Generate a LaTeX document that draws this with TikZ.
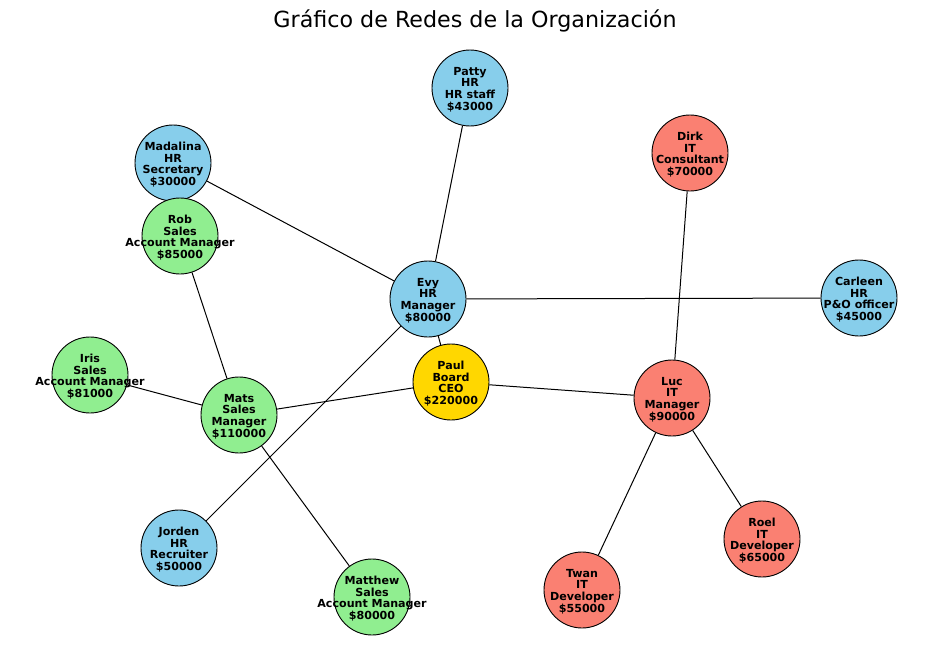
\documentclass[tikz,border=0pt]{standalone}
\usepackage{fontspec}
\setmainfont{DejaVu Sans}
\definecolor{hrc}{HTML}{87CEEB}
\definecolor{salesc}{HTML}{90EE90}
\definecolor{itc}{HTML}{FA8072}
\definecolor{boardc}{HTML}{FFD700}
\begin{document}
\begin{tikzpicture}[x=1pt,y=-1pt,
  person/.style={circle,draw=black,line width=0.9pt,fill=#1,minimum size=76pt,inner sep=0pt},
  txt/.style={align=center,inner sep=0pt,yshift=-1.5pt,font=\fontsize{11.1}{11.7}\selectfont\bfseries},
  edge/.style={draw=black,line width=1pt},
  title/.style={font=\fontsize{22.2}{26}\selectfont,anchor=base}]
\useasboundingbox (0,0) rectangle (950,661);
\node[title] (ttl) at (475,27.5) {Gráfico de Redes de la Organización};
\node[person=hrc, label={[txt]center:Patty\\HR\\HR staff\\\$43000}] (patty) at (470,88) {};
\node[person=hrc, label={[txt]center:Madalina\\HR\\Secretary\\\$30000}] (mad) at (173,163) {};
\node[person=salesc, label={[txt]center:Rob\\Sales\\Account Manager\\\$85000}] (rob) at (180,236) {};
\node[person=itc, label={[txt]center:Dirk\\IT\\Consultant\\\$70000}] (dirk) at (690,153) {};
\node[person=hrc, label={[txt]center:Evy\\HR\\Manager\\\$80000}] (evy) at (428,299) {};
\node[person=hrc, label={[txt]center:Carleen\\HR\\P\&O officer\\\$45000}] (carleen) at (859,298) {};
\node[person=salesc, label={[txt]center:Iris\\Sales\\Account Manager\\\$81000}] (iris) at (90,375) {};
\node[person=boardc, label={[txt]center:Paul\\Board\\CEO\\\$220000}] (paul) at (451,382) {};
\node[person=itc, label={[txt]center:Luc\\IT\\Manager\\\$90000}] (luc) at (672,398) {};
\node[person=salesc, label={[txt]center:Mats\\Sales\\Manager\\\$110000}] (mats) at (239,415) {};
\node[person=hrc, label={[txt]center:Jorden\\HR\\Recruiter\\\$50000}] (jorden) at (179,548) {};
\node[person=itc, label={[txt]center:Roel\\IT\\Developer\\\$65000}] (roel) at (762,539) {};
\node[person=itc, label={[txt]center:Twan\\IT\\Developer\\\$55000}] (twan) at (582,590) {};
\node[person=salesc, label={[txt]center:Matthew\\Sales\\Account Manager\\\$80000}] (matthew) at (372,597) {};
\draw[edge] (mad) -- (evy);
\draw[edge] (patty) -- (evy);
\draw[edge] (evy) -- (carleen);
\draw[edge] (evy) -- (paul);
\draw[edge] (evy) -- (jorden);
\draw[edge] (rob) -- (mats);
\draw[edge] (iris) -- (mats);
\draw[edge] (mats) -- (paul);
\draw[edge] (mats) -- (matthew);
\draw[edge] (paul) -- (luc);
\draw[edge] (dirk) -- (luc);
\draw[edge] (luc) -- (twan);
\draw[edge] (luc) -- (roel);
\end{tikzpicture}
\end{document}
